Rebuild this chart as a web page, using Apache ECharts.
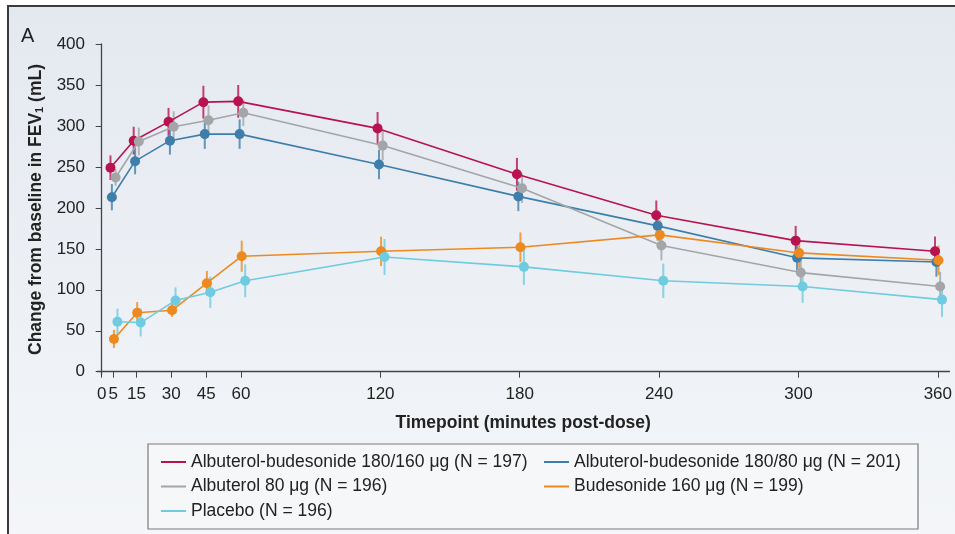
<!DOCTYPE html>
<html>
<head>
<meta charset="utf-8">
<script src="https://cdn.jsdelivr.net/npm/echarts@6/dist/echarts.min.js"></script>
<style>html,body{margin:0;padding:0;background:#fff;}#c{width:955px;height:534px;}</style>
</head>
<body>
<div id="c"></div>
<script>
// ---- data ----
const timepoints = [5, 15, 30, 45, 60, 120, 180, 240, 300, 360];
const xTicks = [0, 5, 15, 30, 45, 60, 120, 180, 240, 300, 360];
const yTicks = [0, 50, 100, 150, 200, 250, 300, 350, 400];

const seriesNames = [
  'Albuterol-budesonide 180/160 μg (N = 197)',
  'Albuterol-budesonide 180/80 μg (N = 201)',
  'Albuterol 80 μg (N = 196)',
  'Budesonide 160 μg (N = 199)',
  'Placebo (N = 196)'
];
const abd160 = [249, 282, 305, 329, 330, 297, 241, 191, 160, 147];
const abd80  = [213, 257, 282, 290, 290, 253, 214, 178, 139, 134];
const alb80  = [237, 281, 299, 307, 316, 276, 224, 154, 121, 104];
const bud160 = [40, 72, 75, 108, 141, 147, 152, 167, 145, 136];
const placebo= [61, 60, 87, 97, 111, 140, 128, 111, 104, 88];

const abd160Err = [15, 17, 17, 20, 20, 20, 20, 18, 18, 18];
const abd80Err  = [16, 16, 17, 18, 18, 18, 18, 18, 18, 18];
const alb80Err  = [10, 17, 19, 18, 16, 18, 18, 18, 18, 18];
const bud160Err = [11, 13, 8, 15, 19, 18, 18, 18, 18, 18];
const placeboErr= [16, 17, 16, 19, 20, 22, 22, 21, 20, 21];

// ---- styling ----
const colors = ['#b8134f', '#3e7eab', '#a3a5a8', '#ec8a1f', '#6ecbe0'];
const dodge = [-1.2, -0.6, 1.0, 0.3, 1.8];
const values = [abd160, abd80, alb80, bud160, placebo];
const errs = [abd160Err, abd80Err, alb80Err, bud160Err, placeboErr];
const FONT = 'Liberation Sans, Arial, sans-serif';

const series = [];
values.forEach((vals, i) => {
  series.push({
    name: seriesNames[i] + ' err',
    type: 'custom',
    z: 1,
    silent: true,
    data: timepoints.map((t, k) => [t + dodge[i], vals[k], errs[i][k]]),
    renderItem: function (params, api) {
      const x = api.value(0), y = api.value(1), e = api.value(2);
      const p1 = api.coord([x, y - e]);
      const p2 = api.coord([x, y + e]);
      return {
        type: 'line',
        shape: { x1: p1[0], y1: p1[1], x2: p2[0], y2: p2[1] },
        style: { stroke: colors[i], lineWidth: 2, opacity: 0.8 }
      };
    }
  });
});
values.forEach((vals, i) => {
  series.push({
    name: seriesNames[i],
    type: 'line',
    z: 3,
    data: timepoints.map((t, k) => [t + dodge[i], vals[k]]),
    symbol: 'circle',
    symbolSize: 10,
    lineStyle: { width: 1.6, color: colors[i] },
    itemStyle: { color: colors[i] },
    animation: false
  });
});

const legendText = { fontFamily: FONT, fontSize: 17.5, color: '#222', lineHeight: 20 };

const chart = echarts.init(document.getElementById('c'));
chart.setOption({
  animation: false,
  backgroundColor: '#ffffff',
  color: colors,
  title: { text: 'A', left: 16, top: 21, textStyle: { fontFamily: FONT, fontWeight: 'normal', fontSize: 20, color: '#222' } },
  graphic: [
    {
      type: 'rect', z: -100,
      shape: { x: 8, y: 6, width: 960, height: 540 },
      style: {
        stroke: '#3b3b3b', lineWidth: 2,
        fill: new echarts.graphic.LinearGradient(0, 0, 0, 1, [
          { offset: 0, color: '#e4e9f0' }, { offset: 1, color: '#f4f6f9' }
        ])
      }
    },
    {
      type: 'rect', z: -50,
      shape: { x: 148, y: 444, width: 770, height: 85 },
      style: { stroke: '#7a7a7a', lineWidth: 1.2, fill: '#f6f7f9' }
    }
  ],
  legend: [
    {
      orient: 'vertical', left: 156, top: 447,
      data: [seriesNames[0], seriesNames[2], seriesNames[4]],
      icon: 'rect', itemWidth: 25, itemHeight: 2, itemGap: 4.5,
      textStyle: legendText
    },
    {
      orient: 'vertical', left: 539, top: 447,
      data: [seriesNames[1], seriesNames[3]],
      icon: 'rect', itemWidth: 25, itemHeight: 2, itemGap: 4.5,
      textStyle: legendText
    }
  ],
  grid: { left: 97, right: 0, top: 44, bottom: 159, containLabel: false },
  xAxis: {
    type: 'value', min: -2, max: 365,
    name: 'Timepoint (minutes post-dose)',
    nameLocation: 'middle', nameGap: 39,
    nameTextStyle: { fontFamily: FONT, fontWeight: 'bold', fontSize: 17.5, color: '#222' },
    axisLine: { show: true, lineStyle: { color: '#444', width: 1.3 } },
    axisTick: { show: true, customValues: xTicks, length: 6, lineStyle: { color: '#444' } },
    axisLabel: { customValues: xTicks, fontFamily: FONT, fontSize: 17, color: '#222', margin: 11, hideOverlap: false },
    splitLine: { show: false }
  },
  yAxis: {
    type: 'value', min: -4, max: 400,
    name: 'Change from baseline in FEV{sub|1} (mL)',
    nameLocation: 'middle', nameGap: 51, nameRotate: 90,
    nameTextStyle: {
      fontFamily: FONT, fontWeight: 'bold', fontSize: 17.5, color: '#222',
      rich: { sub: { fontFamily: FONT, fontWeight: 'bold', fontSize: 11, color: '#222', padding: [9, 0, 0, 0] } }
    },
    axisLine: { show: true, lineStyle: { color: '#444', width: 1.3 } },
    axisTick: { show: true, customValues: yTicks, length: 6, lineStyle: { color: '#444' } },
    axisLabel: { customValues: yTicks, fontFamily: FONT, fontSize: 17, color: '#222', margin: 12 },
    splitLine: { show: false }
  },
  series: series
});
</script>
</body>
</html>
